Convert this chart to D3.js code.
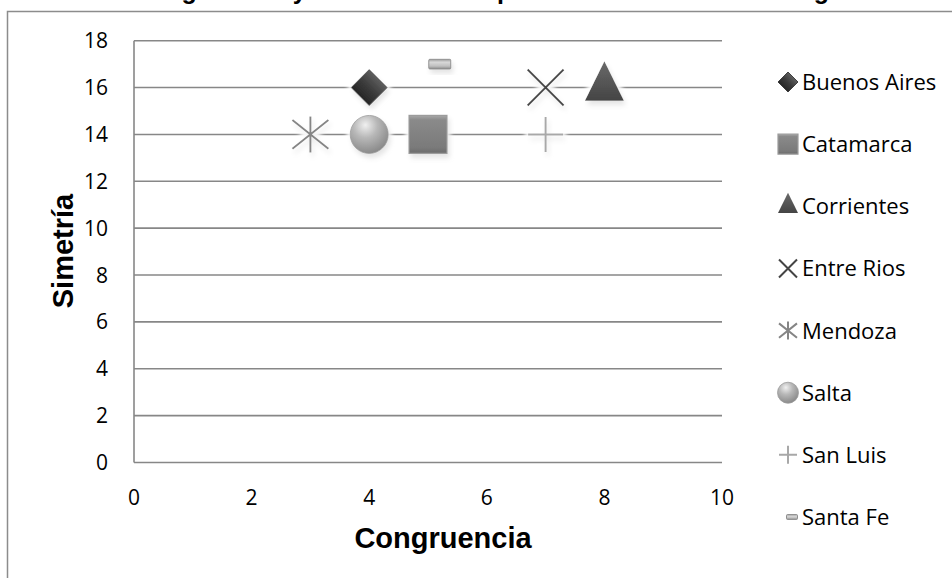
<!DOCTYPE html>
<html><head><meta charset="utf-8">
<script src="https://cdn.jsdelivr.net/npm/d3@7/dist/d3.min.js"></script>
<style>html,body{margin:0;padding:0;background:#fff;overflow:hidden}</style>
</head><body>
<svg id="chart" width="952" height="578"></svg>
<script>
const titleText = "Congruencia y Simetría en las provincias sobre la estrategia";
const xTitle = "Congruencia";
const yTitle = "Simetría";
const provincias = ["Buenos Aires","Catamarca","Corrientes","Entre Rios","Mendoza","Salta","San Luis","Santa Fe"];
const congruencia = [4, 5, 8, 7, 3, 4, 7, 5.2];
const simetria = [16, 14, 16, 16, 14, 14, 14, 17];
const xTicks = [0, 2, 4, 6, 8, 10];
const yTicks = [0, 2, 4, 6, 8, 10, 12, 14, 16, 18];

const markerShapes = ["diamond","square","triangle","times","asterisk","circle","plus","dash"];

const svg = d3.select("#chart");
const defs = svg.append("defs");

function linGrad(id, stops, vertical = true) {
  const g = defs.append("linearGradient").attr("id", id)
    .attr("x1", 0).attr("y1", 0).attr("x2", vertical ? 0 : 1).attr("y2", vertical ? 1 : 0);
  stops.forEach(([o, c]) => g.append("stop").attr("offset", o).attr("stop-color", c));
}
linGrad("gDiamond", [[0, "#5e5e5e"], [0.5, "#3c3c3c"], [1, "#262626"]]);
linGrad("gSquare", [[0, "#a8a8a8"], [0.12, "#8a8a8a"], [0.85, "#7a7a7a"], [1, "#6a6a6a"]]);
linGrad("gTri", [[0, "#6a6a6a"], [1, "#444444"]]);
linGrad("gDash", [[0, "#9a9a9a"], [0.3, "#d8d8d8"], [0.7, "#c0c0c0"], [1, "#8a8a8a"]]);
const rg = defs.append("radialGradient").attr("id", "gCircle")
  .attr("cx", "40%").attr("cy", "30%").attr("r", "70%").attr("fx", "40%").attr("fy", "25%");
[[0, "#f0f0f0"], [0.45, "#b8b8b8"], [1, "#8a8a8a"]].forEach(([o, c]) =>
  rg.append("stop").attr("offset", o).attr("stop-color", c));

// halo + shadow filter
const f = defs.append("filter").attr("id", "fx")
  .attr("x", "-60%").attr("y", "-60%").attr("width", "220%").attr("height", "220%");
f.append("feMorphology").attr("in", "SourceAlpha").attr("operator", "dilate").attr("radius", 3).attr("result", "dil");
f.append("feGaussianBlur").attr("in", "dil").attr("stdDeviation", 2).attr("result", "dilb");
f.append("feFlood").attr("flood-color", "#ffffff").attr("result", "white");
f.append("feComposite").attr("in", "white").attr("in2", "dilb").attr("operator", "in").attr("result", "halo");
f.append("feGaussianBlur").attr("in", "SourceAlpha").attr("stdDeviation", 2.5).attr("result", "sb");
f.append("feOffset").attr("in", "sb").attr("dx", 2).attr("dy", 4).attr("result", "so");
f.append("feFlood").attr("flood-color", "#000").attr("flood-opacity", 0.22).attr("result", "sc");
f.append("feComposite").attr("in", "sc").attr("in2", "so").attr("operator", "in").attr("result", "shadow");
const fm = f.append("feMerge");
fm.append("feMergeNode").attr("in", "halo");
fm.append("feMergeNode").attr("in", "shadow");
fm.append("feMergeNode").attr("in", "SourceGraphic");

// Outer chart frame
svg.append("rect").attr("x", 7.5).attr("y", 11.5).attr("width", 1000).attr("height", 1000)
  .attr("fill", "none").attr("stroke", "#8c8c8c").attr("stroke-width", 1.5);

// Title (cut off at top)
svg.append("text").attr("x", 133).attr("y", -1)
  .attr("font-family", "Liberation Sans, Arial, sans-serif").attr("font-weight", "bold")
  .attr("font-size", 25).attr("fill", "#000").text(titleText);

const x = d3.scaleLinear().domain([0, 10]).range([134, 722]);
const y = d3.scaleLinear().domain([0, 18]).range([462.5, 40.7]);

// Grid lines
svg.append("g").selectAll("line").data(yTicks).join("line")
  .attr("x1", x(0)).attr("x2", x(10)).attr("y1", d => y(d)).attr("y2", d => y(d))
  .attr("stroke", "#878787").attr("stroke-width", 1.6);
// left axis line
svg.append("line").attr("x1", x(0)).attr("x2", x(0)).attr("y1", y(0)).attr("y2", y(18))
  .attr("stroke", "#878787").attr("stroke-width", 1.6);

// Tick labels
const tickFont = "Open Sans, Noto Sans, sans-serif";
svg.append("g").selectAll("text").data(yTicks).join("text")
  .attr("x", 108).attr("y", d => y(d) + 7.5).attr("text-anchor", "end")
  .attr("font-family", tickFont).attr("font-size", 21).attr("fill", "#000").text(d => d);
svg.append("g").selectAll("text").data(xTicks).join("text")
  .attr("x", d => x(d)).attr("y", 505).attr("text-anchor", "middle")
  .attr("font-family", tickFont).attr("font-size", 21).attr("fill", "#000").text(d => d);

// Axis titles
svg.append("text").attr("x", 443).attr("y", 548).attr("text-anchor", "middle")
  .attr("font-family", "Liberation Sans, Arial, sans-serif").attr("font-weight", "bold")
  .attr("font-size", 29).attr("fill", "#000").text(xTitle);
svg.append("text").attr("transform", "translate(73,251) rotate(-90)").attr("text-anchor", "middle")
  .attr("font-family", "Liberation Sans, Arial, sans-serif").attr("font-weight", "bold")
  .attr("font-size", 29).attr("fill", "#000").text(yTitle);

// Marker drawing
function drawMarker(g, shape, s) {
  const h = s / 2;
  if (shape === "diamond") {
    g.append("path").attr("d", d3.symbol(d3.symbolSquare, s * s / 2)())
      .attr("transform", "rotate(45)").attr("fill", "url(#gDiamond)")
      .attr("stroke", "#2e2e2e").attr("stroke-width", 0.8);
  } else if (shape === "square") {
    g.append("path").attr("d", d3.symbol(d3.symbolSquare, s * s)())
      .attr("fill", "url(#gSquare)").attr("stroke", "#9c9c9c").attr("stroke-width", 1.2);
  } else if (shape === "triangle") {
    const area = Math.sqrt(3) / 4 * s * s;
    g.append("path").attr("d", d3.symbol(d3.symbolTriangle, area)())
      .attr("transform", "scale(1,1.17)").attr("fill", "url(#gTri)");
  } else if (shape === "circle") {
    g.append("circle").attr("r", h).attr("fill", "url(#gCircle)")
      .attr("stroke", "#9a9a9a").attr("stroke-width", 0.8);
  } else if (shape === "times") {
    const p = d3.path();
    p.moveTo(-h, -h); p.lineTo(h, h); p.moveTo(h, -h); p.lineTo(-h, h);
    g.append("path").attr("d", p.toString()).attr("fill", "none")
      .attr("stroke", "#444").attr("stroke-width", 2);
  } else if (shape === "asterisk") {
    const p = d3.path();
    p.moveTo(-h, -h * 0.8); p.lineTo(h, h * 0.8); p.moveTo(h, -h * 0.8); p.lineTo(-h, h * 0.8);
    p.moveTo(0, -h); p.lineTo(0, h);
    g.append("path").attr("d", p.toString()).attr("fill", "none")
      .attr("stroke", "#858585").attr("stroke-width", 2);
  } else if (shape === "plus") {
    const p = d3.path();
    p.moveTo(-h, 0); p.lineTo(h, 0); p.moveTo(0, -h); p.lineTo(0, h);
    g.append("path").attr("d", p.toString()).attr("fill", "none")
      .attr("stroke", "#a8a8a8").attr("stroke-width", 2);
  } else if (shape === "dash") {
    g.append("rect").attr("x", -s / 2).attr("y", -s * 0.22).attr("width", s).attr("height", s * 0.44)
      .attr("rx", 1).attr("fill", "url(#gDash)").attr("stroke", "#8e8e8e").attr("stroke-width", 1);
  }
}

const plotSizes = { diamond: 36, square: 38, triangle: 39, circle: 38, times: 36, asterisk: 36, plus: 35, dash: 22 };
const legendSizes = { diamond: 20, square: 20, triangle: 20, circle: 21, times: 18, asterisk: 18, plus: 18, dash: 11 };

const points = provincias.map((p, i) => ({ name: p, x: congruencia[i], y: simetria[i], shape: markerShapes[i] }));
const pts = svg.append("g");
points.forEach(d => {
  const g = pts.append("g").attr("transform", `translate(${x(d.x)},${y(d.y)})`).attr("filter", "url(#fx)");
  drawMarker(g, d.shape, plotSizes[d.shape]);
});

// Legend
const legendY = d3.scaleLinear().domain([0, provincias.length - 1]).range([90, 525]);
const leg = svg.append("g");
points.forEach((d, i) => {
  const by = legendY(i);
  const mx = d.shape === "dash" ? 792 : 788;
  const g = leg.append("g").attr("transform", `translate(${mx},${by - 8})`);
  drawMarker(g, d.shape, legendSizes[d.shape]);
  leg.append("text").attr("x", 802).attr("y", by)
    .attr("font-family", tickFont).attr("font-size", 22).attr("fill", "#000").text(d.name);
});
</script>
</body></html>
